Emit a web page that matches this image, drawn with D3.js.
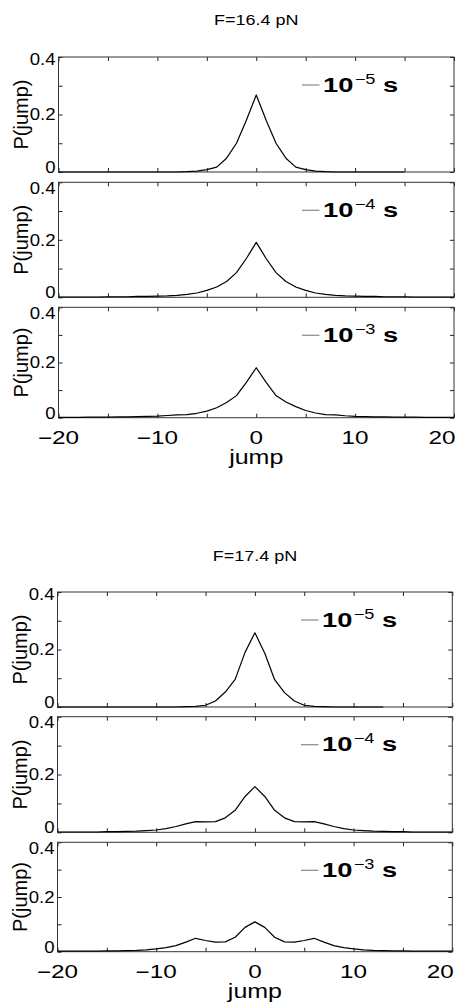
<!DOCTYPE html>
<html>
<head>
<meta charset="utf-8">
<script src="https://cdn.jsdelivr.net/npm/d3@7/dist/d3.min.js"></script>
<style>
  body { margin: 0; background: #fff; }
  svg { display: block; }
</style>
</head>
<body>
<script>
// Jump sizes (x categories)
const jumps = [-20,-19,-18,-17,-16,-15,-14,-13,-12,-11,-10,-9,-8,-7,-6,-5,-4,-3,-2,-1,
  0,1,2,3,4,5,6,7,8,9,10,11,12,13,14,15,16,17,18,19,20];

// Force labels and lag-time exponents
const forces = ["F=16.4 pN", "F=17.4 pN"];
const lagExponents = ["\u22125", "\u22124", "\u22123"];

// Axis ticks and labels
const xTicks = [-20,-15,-10,-5,0,5,10,15,20];
const xTickLabels = ["\u221220","","\u221210","","0","","10","","20"];
const yTicks = [0,0.1,0.2,0.3,0.4];
const yTickLabels = ["0","","0.2","","0.4"];

// P(jump) at F=16.4 pN
const p164_lag5 = [0,0,0,0,0,0,0,0,0,0,0,0,0,0.001,0.003,0.008,0.017,0.048,0.100,0.180,
  0.268,0.180,0.100,0.048,0.017,0.008,0.003,0.001,0,0,0,0,0,0,0,0,null,null,null,null,null];
const p164_lag4 = [0.001,0.001,0.001,0.001,0.001,0.002,0.002,0.002,0.003,0.003,0.004,0.005,0.007,0.010,0.015,0.024,0.036,0.055,0.086,0.135,
  0.191,0.135,0.086,0.055,0.036,0.024,0.015,0.010,0.007,0.005,0.004,0.003,0.003,0.002,0.002,0.002,0.001,0.001,0.001,0.001,0.001];
const p164_lag3 = [0.001,0.001,0.001,0.002,0.002,0.002,0.003,0.003,0.004,0.005,0.006,0.008,0.010,0.011,0.016,0.024,0.036,0.055,0.080,0.128,
  0.181,0.128,0.080,0.057,0.040,0.026,0.017,0.011,0.010,0.007,0.005,0.004,0.003,0.003,0.002,0.002,0.002,0.001,0.001,0.001,0.001];

// P(jump) at F=17.4 pN
const p174_lag5 = [0,0,0,0,0,0,0,0,0,0,0,0,0,0.001,0.002,0.006,0.021,0.052,0.096,0.190,
  0.258,0.187,0.095,0.050,0.021,0.006,0.002,0.001,0,0,0,0,0,0,null,null,null,null,null,null,null];
const p174_lag4 = [0.001,0.001,0.001,0.001,0.001,0.002,0.002,0.003,0.004,0.006,0.008,0.013,0.020,0.029,0.037,0.036,0.037,0.050,0.076,0.124,
  0.158,0.124,0.076,0.050,0.037,0.036,0.037,0.029,0.020,0.013,0.008,0.006,0.004,0.003,0.002,0.002,0.001,0.001,0.001,0.001,0.001];
const p174_lag3 = [0.002,0.002,0.002,0.002,0.002,0.003,0.003,0.004,0.005,0.007,0.010,0.015,0.022,0.035,0.049,0.041,0.035,0.036,0.053,0.089,
  0.109,0.089,0.053,0.036,0.035,0.041,0.049,0.035,0.022,0.015,0.010,0.007,0.005,0.004,0.003,0.003,0.002,0.002,0.002,0.002,0.002];

const seriesByForce = [
  [p164_lag5, p164_lag4, p164_lag3],
  [p174_lag5, p174_lag4, p174_lag3]
];

// ---- layout ----
const W = 461, H = 1005;
const FONT = "'Liberation Sans', Arial, Helvetica, sans-serif";
const figures = [
  { x0: 58.5, x1: 454, titleY: 25, panels: [[57, 172], [182.3, 297.3], [307.3, 417.7]] },
  { x0: 57.5, x1: 452.3, titleY: 560.7, panels: [[592, 707], [716.7, 832.3], [842.3, 951.7]] }
];
const TICK = 4;

const svg = d3.select("body").append("svg")
  .attr("width", W).attr("height", H)
  .attr("viewBox", `0 0 ${W} ${H}`);

// text placed at (x, y) and widened horizontally by sx
function label(g, x, y, str, size, anchor, sx, weight) {
  return g.append("text")
    .attr("transform", `translate(${x},${y}) scale(${sx},1)`)
    .attr("text-anchor", anchor)
    .attr("font-family", FONT)
    .attr("font-size", size)
    .attr("font-weight", weight || "normal")
    .attr("fill", "#000")
    .text(str);
}

figures.forEach((fig, fi) => {
  const g = svg.append("g");
  const x = d3.scaleLinear().domain([-20, 20]).range([fig.x0, fig.x1]);
  const xMid = x(0);

  label(g, xMid, fig.titleY, forces[fi], 15, "middle", 1.2);

  fig.panels.forEach(([top, bottom], pi) => {
    const y = d3.scaleLinear().domain([0, 0.4]).range([bottom, top]);
    const pg = g.append("g");

    // inward ticks on all four sides
    const tickStyle = sel => sel.call(s => s.select(".domain").remove())
      .selectAll("line").attr("stroke", "#222").attr("stroke-width", 1);
    pg.append("g").attr("transform", `translate(0,${bottom})`)
      .call(d3.axisTop(x).tickValues(xTicks).tickSize(TICK).tickFormat(""))
      .call(tickStyle);
    pg.append("g").attr("transform", `translate(0,${top})`)
      .call(d3.axisBottom(x).tickValues(xTicks).tickSize(TICK).tickFormat(""))
      .call(tickStyle);
    pg.append("g").attr("transform", `translate(${fig.x0},0)`)
      .call(d3.axisRight(y).tickValues(yTicks).tickSize(TICK).tickFormat(""))
      .call(tickStyle);
    pg.append("g").attr("transform", `translate(${fig.x1},0)`)
      .call(d3.axisLeft(y).tickValues(yTicks).tickSize(TICK).tickFormat(""))
      .call(tickStyle);

    // frame
    pg.append("rect")
      .attr("x", fig.x0).attr("y", top)
      .attr("width", fig.x1 - fig.x0).attr("height", bottom - top)
      .attr("fill", "none").attr("stroke", "#333").attr("stroke-width", 1);

    // y tick labels (edge labels pulled inside the panel)
    yTicks.forEach((v, i) => {
      if (!yTickLabels[i]) return;
      let cy = y(v);
      if (v === 0.4) cy += (pi === 0 ? 2.5 : 5.5);
      if (v === 0) cy -= 5;
      label(pg, fig.x0 - 3, cy + 5.8, yTickLabels[i], 16, "end", 1.16);
    });

    // y axis title
    pg.append("text")
      .attr("transform", `translate(${fig.x0 - 31},${(top + bottom) / 2}) rotate(-90)`)
      .attr("text-anchor", "middle")
      .attr("font-family", FONT).attr("font-size", 20)
      .text("P(jump)");

    // distribution curve
    const vals = seriesByForce[fi][pi];
    const pts = jumps.map((j, i) => [j, vals[i]]);
    pg.append("path")
      .datum(pts)
      .attr("fill", "none").attr("stroke", "#000").attr("stroke-width", 1.2)
      .attr("stroke-linejoin", "round")
      .attr("d", d3.line().defined(d => d[1] !== null).x(d => x(d[0])).y(d => y(d[1])));

    // legend
    const ly = top + 28;
    pg.append("line")
      .attr("x1", fig.x0 + 243.5).attr("x2", fig.x0 + 261)
      .attr("y1", ly).attr("y2", ly)
      .attr("stroke", "#888").attr("stroke-width", 1.2);
    const lt = pg.append("text")
      .attr("transform", `translate(${fig.x0 + 264.5},${ly + 6.7}) scale(1.3,1)`)
      .attr("font-family", FONT).attr("font-weight", "bold").attr("font-size", 21);
    lt.append("tspan").text("10");
    lt.append("tspan").attr("font-size", 14).attr("font-weight", "normal")
      .attr("dy", -8).attr("dx", 1).text(lagExponents[pi]);
    lt.append("tspan").attr("dy", 8).text(" s");

    // x tick labels on the bottom panel only
    if (pi === fig.panels.length - 1) {
      xTicks.forEach((v, i) => {
        if (!xTickLabels[i]) return;
        const last = i === xTicks.length - 1;
        label(pg, last ? fig.x1 + 1.5 : x(v), bottom + 25.8, xTickLabels[i], 18,
          last ? "end" : "middle", 1.35);
      });
      label(pg, xMid, bottom + 46.5, "jump", 20, "middle", 1.25);
    }
  });
});
</script>
</body>
</html>
